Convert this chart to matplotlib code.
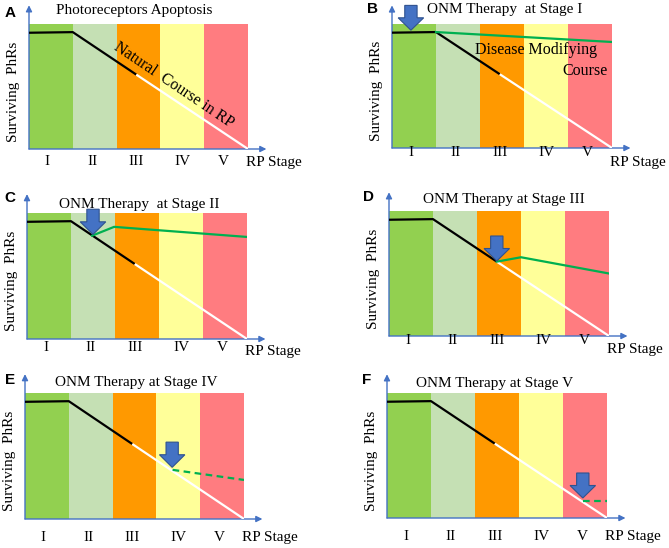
import matplotlib

matplotlib.use("Agg")

import matplotlib.pyplot as plt
from matplotlib.patches import FancyArrow

# stages and band colours
stages = ["I", "II", "III", "IV", "V"]
stage_colors = ["#92D050", "#C5E0B4", "#FF9900", "#FFFF99", "#FF7C80"]
stage_label_x = [0.42, 1.45, 2.45, 3.5, 4.43]

# natural course of photoreceptor loss (black = observed, white = projected)
natural_black_x = [0, 1, 2.45]
natural_black_y = [0.93, 0.935, 0.595]
natural_white_x = [2.45, 5]
natural_white_y = [0.595, 0.0]

# disease-modifying course after therapy per panel
therapy_b_x = [1, 5]
therapy_b_y = [0.935, 0.855]
therapy_c_x = [1.48, 1.98, 5]
therapy_c_y = [0.82, 0.89, 0.81]
therapy_d_x = [2.45, 3.0, 5]
therapy_d_y = [0.595, 0.63, 0.50]
therapy_e_x = [3.37, 5]
therapy_e_y = [0.39, 0.31]
therapy_f_x = [4.45, 5]
therapy_f_y = [0.14, 0.14]

SERIF = "Liberation Serif"
BLUE = "#4472C4"
GREEN = "#00B050"

W, H = 669, 548


def px_axes(fig, left, top, width, height):
    # place axes from pixel coordinates (top-left origin)
    return fig.add_axes([left / W, 1 - (top + height) / H, width / W, height / H])


def base_panel(ax, title, title_x, title_y, label_y, rp_y):
    ax.set_xlim(0, 5)
    ax.set_ylim(0, 1)
    ax.axis("off")
    for i, c in enumerate(stage_colors):
        ax.axvspan(i, i + 1, ymin=0, ymax=1, color=c, lw=0, zorder=0)
    ax.annotate("", xy=(5.42, 0), xytext=(0, 0), annotation_clip=False,
                arrowprops=dict(arrowstyle="-|>", color=BLUE, lw=1.0, mutation_scale=9, shrinkA=0, shrinkB=0))
    ax.annotate("", xy=(0, 1.15), xytext=(0, 0), annotation_clip=False,
                arrowprops=dict(arrowstyle="-|>", color=BLUE, lw=1.0, mutation_scale=9, shrinkA=0, shrinkB=0))
    ax.plot(natural_black_x, natural_black_y, color="black", lw=1.6, zorder=3, solid_capstyle="butt")
    ax.plot(natural_white_x, natural_white_y, color="white", lw=1.6, zorder=3, solid_capstyle="butt")
    for x, s in zip(stage_label_x, stages):
        ax.text(x, label_y, s, ha="center", va="center", fontsize=11, family=SERIF, clip_on=False)
    ax.text(4.95, rp_y, "RP Stage", ha="left", va="center", fontsize=11, family=SERIF, clip_on=False)
    ax.text(-0.35, 0.46, "Surviving  PhRs", ha="center", va="center", rotation=90, fontsize=11,
            family=SERIF, clip_on=False)
    ax.text(title_x, title_y, title, ha="center", va="center", fontsize=11, family=SERIF, clip_on=False)


def therapy_arrow(ax, x, tip_y, length=0.2):
    arr = FancyArrow(x, tip_y + length, 0, -length, width=0.28, head_width=0.58, head_length=0.1,
                     length_includes_head=True, facecolor=BLUE, edgecolor="#2F528F", lw=0.8,
                     zorder=5, clip_on=False)
    ax.add_patch(arr)


fig = plt.figure(figsize=(W / 100, H / 100), dpi=100, facecolor="white")

# A
ax_a = px_axes(fig, 29, 24, 219, 125)
base_panel(ax_a, "Photoreceptors Apoptosis", 2.4, 1.11, -0.10, -0.11)
ax_a.text(3.3, 0.51, "Natural  Course in RP", rotation=-34, ha="center", va="center",
          fontsize=11.5, family=SERIF, zorder=4)

# B
ax_b = px_axes(fig, 392, 24, 220, 124)
base_panel(ax_b, "ONM Therapy  at Stage I", 2.57, 1.12, -0.04, -0.12)
ax_b.plot(therapy_b_x, therapy_b_y, color=GREEN, lw=1.6, zorder=4)
therapy_arrow(ax_b, 0.43, 0.95)
ax_b.text(1.89, 0.79, "Disease Modifying", ha="left", va="center", fontsize=11.5, family=SERIF, zorder=4)
ax_b.text(4.9, 0.62, "Course", ha="right", va="center", fontsize=11.5, family=SERIF, zorder=4)

# C
ax_c = px_axes(fig, 27, 213, 220, 126)
base_panel(ax_c, "ONM Therapy  at Stage II", 2.55, 1.07, -0.07, -0.10)
ax_c.plot(therapy_c_x, therapy_c_y, color=GREEN, lw=1.6, zorder=4)
therapy_arrow(ax_c, 1.5, 0.83)

# D
ax_d = px_axes(fig, 389, 211, 220, 125)
base_panel(ax_d, "ONM Therapy at Stage III", 2.6, 1.09, -0.04, -0.11)
ax_d.plot(therapy_d_x, therapy_d_y, color=GREEN, lw=1.6, zorder=4)
therapy_arrow(ax_d, 2.45, 0.6)

# E
ax_e = px_axes(fig, 25, 393, 219, 126)
base_panel(ax_e, "ONM Therapy at Stage IV", 2.55, 1.08, -0.15, -0.15)
ax_e.plot(therapy_e_x, therapy_e_y, color=GREEN, lw=1.6, ls=(0, (3, 2)), zorder=4)
therapy_arrow(ax_e, 3.36, 0.41)

# F
ax_f = px_axes(fig, 387, 393, 220, 125)
base_panel(ax_f, "ONM Therapy at Stage V", 2.45, 1.08, -0.15, -0.15)
ax_f.plot(therapy_f_x, therapy_f_y, color=GREEN, lw=1.6, ls=(0, (3, 2)), zorder=4)
therapy_arrow(ax_f, 4.45, 0.16)

# panel letters
for letter, x, y in [("A", 10, 13), ("B", 372, 9), ("C", 10, 198),
                     ("D", 368, 197), ("E", 10, 380), ("F", 367, 380)]:
    fig.text(x / W, 1 - y / H, letter, ha="center", va="center", fontsize=11,
             weight="bold", family="Liberation Sans")

fig.savefig("out.png", dpi=100, facecolor="white")
